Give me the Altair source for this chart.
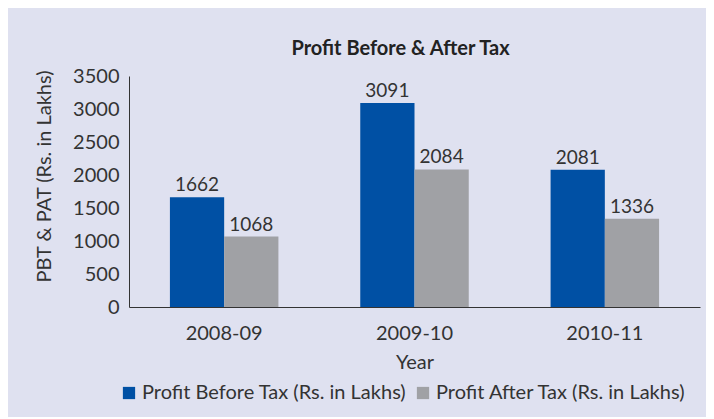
import altair as alt
import pandas as pd

years = ["2008-09", "2009-10", "2010-11"]
pbt = [1662, 3091, 2081]
pat = [1068, 2084, 1336]
series = ["Profit Before Tax (Rs. in Lakhs)", "Profit After Tax (Rs. in Lakhs)"]
colors = ["#0050A4", "#A0A1A5"]
y_ticks = [0, 500, 1000, 1500, 2000, 2500, 3000, 3500]

rows = []
for y, a, b in zip(years, pbt, pat):
    rows.append({"Year": y, "Series": series[0], "Value": a})
    rows.append({"Year": y, "Series": series[1], "Value": b})
df = pd.DataFrame(rows)

FONT = "Lato"
TXT = "#333333"

base = alt.Chart(df).encode(
    x=alt.X("Year:N", sort=years,
            scale=alt.Scale(paddingInner=0.43, paddingOuter=0.215),
            axis=alt.Axis(title="Year", labelAngle=0, ticks=False, domainColor="#333333",
                          labelPadding=16, titlePadding=9, labelFontSize=20, titleFontSize=20)),
    xOffset=alt.XOffset("Series:N", sort=series),
    y=alt.Y("Value:Q", scale=alt.Scale(domain=[0, 3500]),
            axis=alt.Axis(title="PBT & PAT (Rs. in Lakhs)", values=y_ticks,
                          format="d", labelOverlap=False, titleY=100,
                          grid=False, ticks=False, domainColor="#333333", labelPadding=10,
                          titlePadding=18, labelFontSize=20, titleFontSize=20)),
)

bars = base.mark_bar().encode(
    color=alt.Color("Series:N", sort=series, scale=alt.Scale(domain=series, range=colors),
                    legend=alt.Legend(title=None, orient="none", direction="horizontal",
                                      legendX=-10, legendY=307, symbolType="square",
                                      symbolSize=150, symbolStrokeWidth=0, labelFontSize=20,
                                      labelLimit=0, columnPadding=6, labelOffset=3)),
)

labels = base.mark_text(dy=-2, baseline="bottom", fontSize=19, color=TXT, font=FONT).encode(
    text=alt.Text("Value:Q"),
)

chart = (bars + labels).properties(
    width=571, height=231,
    title=alt.TitleParams("Profit Before & After Tax", fontSize=20, fontWeight="bold",
                          color="#222222", offset=7, anchor="middle", dx=-14),
    autosize=alt.AutoSizeParams(type="none"),
    padding={"left": 121, "top": 68, "right": 6, "bottom": 110},
).configure(
    background="#DFE1F0",
    font=FONT,
).configure_view(
    stroke=None,
).configure_axis(
    labelColor=TXT, titleColor=TXT, titleFontWeight="normal", labelFont=FONT, titleFont=FONT,
).configure_legend(
    labelColor=TXT, labelFont=FONT,
).configure_title(font=FONT)

chart.save("out.html", embed_options={"renderer": "svg", "actions": False})
